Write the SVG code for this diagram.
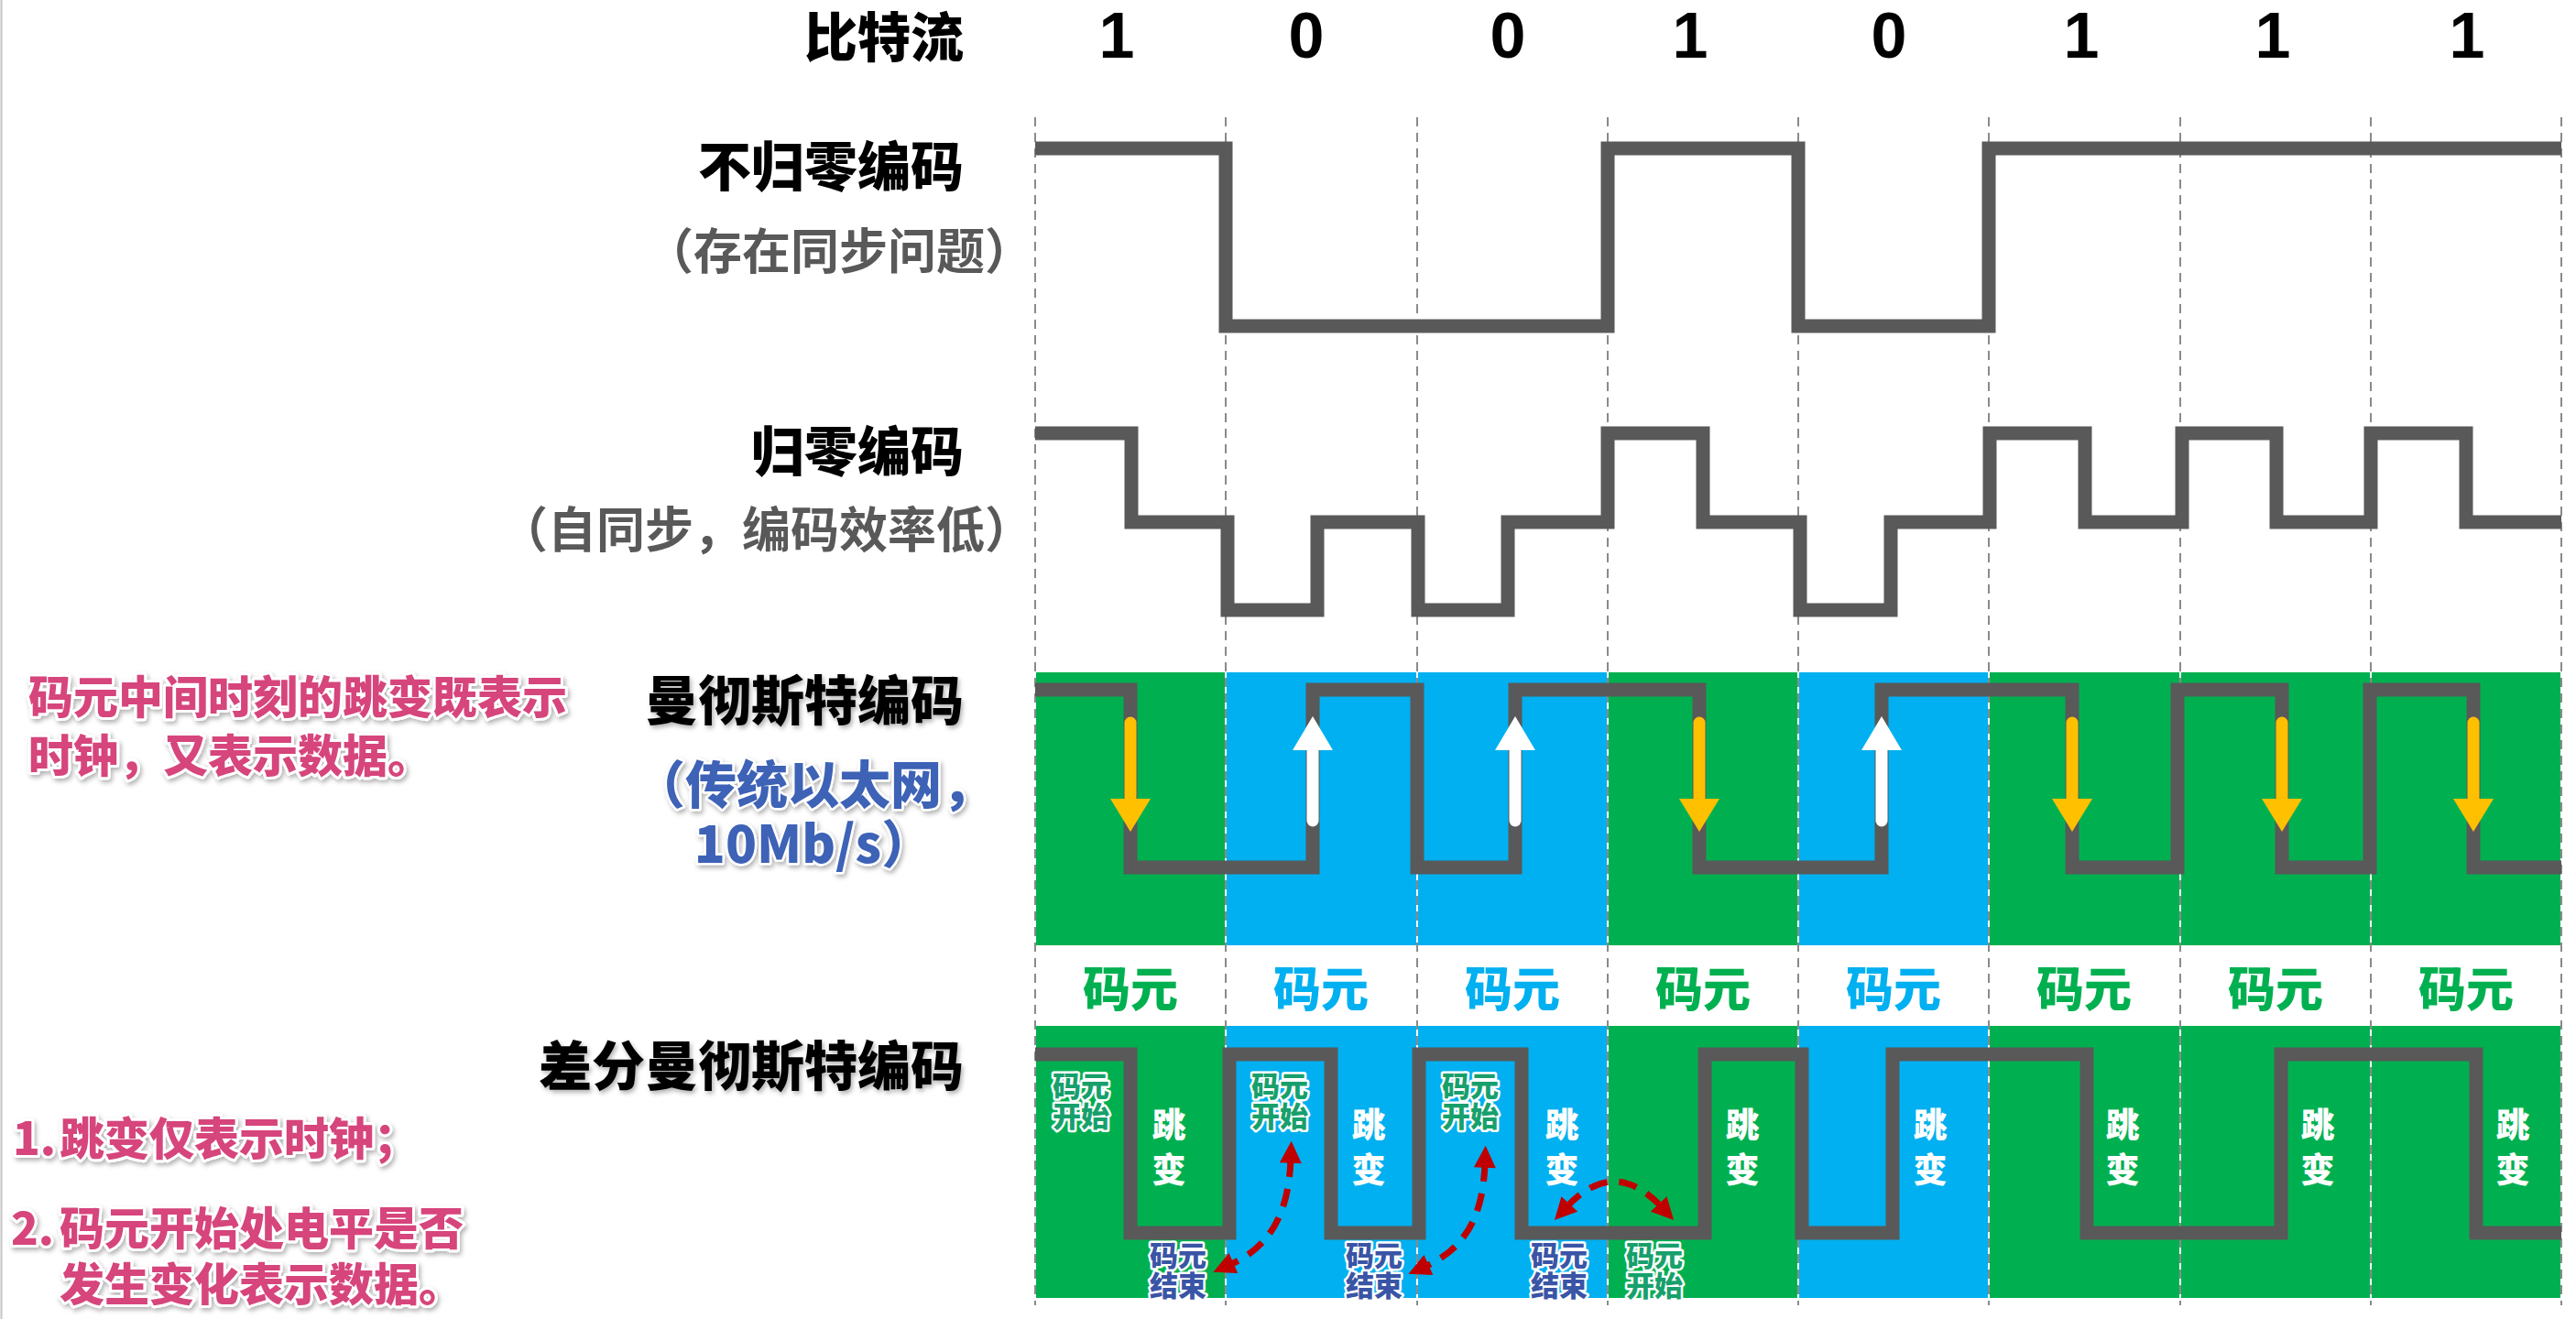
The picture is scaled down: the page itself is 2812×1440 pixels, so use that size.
<svg xmlns="http://www.w3.org/2000/svg" width="2812" height="1440" viewBox="0 0 2812 1440">
  <style>
    .lbl { font-family: "Noto Sans CJK SC", "Noto Sans", sans-serif; font-weight: 700; dominant-baseline: central; }
    .heavy { font-weight: 900; }
    .title { font-size: 58px; fill: #000; text-anchor: end; }
    .sub { font-size: 53px; fill: #595959; text-anchor: end; }
    .bit { font-family: "Liberation Sans", Arial, sans-serif; font-weight: 700; font-size: 70px; fill: #000; text-anchor: middle; }
    .grid { stroke: #8a8a8a; stroke-width: 2; stroke-dasharray: 10 7; }
    .wave { fill: none; stroke: #595959; stroke-width: 15; stroke-linejoin: miter; }
    .g { fill: #00B050; }
    .b { fill: #00B0F0; }
    .cellg { font-size: 52px; fill: #00B050; text-anchor: middle; }
    .cellb { font-size: 52px; fill: #00B0F0; text-anchor: middle; }
    .note { font-size: 49px; fill: #D6457B; stroke: #fff; stroke-width: 6; paint-order: stroke; stroke-linejoin: round; }
    .eth { font-size: 56px; fill: #3D62B6; text-anchor: middle; stroke: #fff; stroke-width: 5; paint-order: stroke; stroke-linejoin: round; }
    .start { font-size: 31px; fill: #17A06C; text-anchor: middle; stroke: #fff; stroke-width: 5; paint-order: stroke; stroke-linejoin: round; }
    .end { font-size: 31px; fill: #3A55A6; text-anchor: middle; stroke: #fff; stroke-width: 5; paint-order: stroke; stroke-linejoin: round; }
    .jump { font-size: 37px; fill: #fff; text-anchor: middle; }
    .red { fill: none; stroke: #C00000; stroke-width: 7; stroke-dasharray: 20 13; marker-start: url(#redHead); marker-end: url(#redHead); }
  </style>
  <defs>
    <filter id="shadow" x="-10%" y="-30%" width="120%" height="160%">
      <feDropShadow dx="2" dy="3" stdDeviation="2.5" flood-color="#000" flood-opacity="0.3"/>
    </filter>
    <marker id="redHead" viewBox="0 0 10 10" refX="2" refY="5" markerWidth="26" markerHeight="24" markerUnits="userSpaceOnUse" orient="auto-start-reverse">
      <path d="M0,0 L10,5 L0,10 z" fill="#C00000"/>
    </marker>
    <!-- falling-edge arrow (yellow) and rising-edge arrow (white), centred on x=0 -->
    <g id="arrowDown">
      <line x1="0" y1="789" x2="0" y2="876" stroke="#FFC000" stroke-width="13" stroke-linecap="round"/>
      <polygon points="-22,872 22,872 0,908" fill="#FFC000"/>
    </g>
    <g id="arrowUp">
      <line x1="0" y1="816" x2="0" y2="896" stroke="#fff" stroke-width="13" stroke-linecap="round"/>
      <polygon points="-22,819 22,819 0,782" fill="#fff"/>
    </g>
  </defs>

  <rect x="0" y="0" width="2812" height="1440" fill="#fff"/>
  <line x1="1.5" y1="0" x2="1.5" y2="1440" stroke="#c4c4c4" stroke-width="2"/>

  <!-- coloured bit cells: Manchester band and differential Manchester band -->
  <g id="cells">
    <rect class="g" x="1131" y="734" width="206" height="298"/>
    <rect class="b" x="1339" y="734" width="207" height="298"/>
    <rect class="b" x="1548" y="734" width="206" height="298"/>
    <rect class="g" x="1756" y="734" width="206" height="298"/>
    <rect class="b" x="1964" y="734" width="206" height="298"/>
    <rect class="g" x="2172" y="734" width="207" height="298"/>
    <rect class="g" x="2381" y="734" width="206" height="298"/>
    <rect class="g" x="2589" y="734" width="206" height="298"/>

    <rect class="g" x="1131" y="1120" width="206" height="297"/>
    <rect class="b" x="1339" y="1120" width="207" height="297"/>
    <rect class="b" x="1548" y="1120" width="206" height="297"/>
    <rect class="g" x="1756" y="1120" width="206" height="297"/>
    <rect class="b" x="1964" y="1120" width="206" height="297"/>
    <rect class="g" x="2172" y="1120" width="207" height="297"/>
    <rect class="g" x="2381" y="1120" width="206" height="297"/>
    <rect class="g" x="2589" y="1120" width="206" height="297"/>
  </g>

  <!-- bit-period boundaries -->
  <g id="grid" class="grid">
    <line x1="1130" y1="128" x2="1130" y2="1425"/>
    <line x1="1338" y1="128" x2="1338" y2="1425"/>
    <line x1="1547" y1="128" x2="1547" y2="1425"/>
    <line x1="1755" y1="128" x2="1755" y2="1425"/>
    <line x1="1963" y1="128" x2="1963" y2="1425"/>
    <line x1="2171" y1="128" x2="2171" y2="1425"/>
    <line x1="2380" y1="128" x2="2380" y2="1425"/>
    <line x1="2588" y1="128" x2="2588" y2="1425"/>
    <line x1="2796" y1="128" x2="2796" y2="1425"/>
  </g>

  <!-- header row: bit stream 1 0 0 1 0 1 1 1 -->
  <g id="bitstream">
    <text class="lbl heavy title" x="1052" y="37">比特流</text>
    <text class="bit" x="1219" y="63">1</text>
    <text class="bit" x="1426" y="63">0</text>
    <text class="bit" x="1646" y="63">0</text>
    <text class="bit" x="1845" y="63">1</text>
    <text class="bit" x="2062" y="63">0</text>
    <text class="bit" x="2272" y="63">1</text>
    <text class="bit" x="2481" y="63">1</text>
    <text class="bit" x="2693" y="63">1</text>
  </g>

  <!-- NRZ -->
  <g id="nrz">
    <text class="lbl heavy title" x="1052" y="178">不归零编码</text>
    <text class="lbl sub" x="1128" y="271">（存在同步问题）</text>
    <path class="wave" d="M1130,162 H1338 V356 H1755 V162 H1963 V356 H2171 V162 H2796"/>
  </g>

  <!-- RZ -->
  <g id="rz">
    <text class="lbl heavy title" x="1052" y="489">归零编码</text>
    <text class="lbl sub" x="1128" y="575">（自同步，编码效率低）</text>
    <path class="wave" d="M1130,473 H1235 V570 H1340 V666 H1438 V570 H1548 V666 H1646 V570 H1755 V473 H1859 V570 H1965 V666 H2064 V570 H2172 V473 H2276 V570 H2382 V473 H2485 V570 H2588 V473 H2692 V570 H2796"/>
  </g>

  <!-- Manchester -->
  <g id="manchester">
    <text class="lbl heavy title" x="1052" y="761" filter="url(#shadow)">曼彻斯特编码</text>
    <g filter="url(#shadow)">
      <text class="lbl heavy eth" x="888" y="852">（传统以太网，</text>
      <text class="lbl heavy eth" x="888" y="917">10Mb/s）</text>
    </g>
    <path class="wave" d="M1130,753 H1234 V947 H1433 V753 H1547 V947 H1654 V753 H1855 V947 H2054 V753 H2262 V947 H2377 V753 H2491 V947 H2587 V753 H2700 V947 H2796"/>
    <use href="#arrowDown" x="1234"/>
    <use href="#arrowUp" x="1433"/>
    <use href="#arrowUp" x="1654"/>
    <use href="#arrowDown" x="1855"/>
    <use href="#arrowUp" x="2054"/>
    <use href="#arrowDown" x="2262"/>
    <use href="#arrowDown" x="2491"/>
    <use href="#arrowDown" x="2700"/>
  </g>

  <!-- bit cell captions -->
  <g id="cell-captions" class="lbl heavy">
    <text class="cellg" x="1234" y="1076">码元</text>
    <text class="cellb" x="1442" y="1076">码元</text>
    <text class="cellb" x="1651" y="1076">码元</text>
    <text class="cellg" x="1859" y="1076">码元</text>
    <text class="cellb" x="2067" y="1076">码元</text>
    <text class="cellg" x="2275" y="1076">码元</text>
    <text class="cellg" x="2484" y="1076">码元</text>
    <text class="cellg" x="2692" y="1076">码元</text>
  </g>

  <!-- Differential Manchester -->
  <g id="diff-manchester">
    <text class="lbl heavy title" x="1052" y="1160" filter="url(#shadow)">差分曼彻斯特编码</text>
    <path class="wave" d="M1130,1151 H1234 V1346 H1342 V1151 H1453 V1346 H1549 V1151 H1661 V1346 H1861 V1151 H1967 V1346 H2066 V1151 H2278 V1346 H2490 V1151 H2703 V1346 H2796"/>
  </g>

  <g id="dm-labels" class="lbl heavy">
    <text class="start" x="1180" y="1183">码元<tspan x="1180" y="1216">开始</tspan></text>
    <text class="start" x="1397" y="1183">码元<tspan x="1397" y="1216">开始</tspan></text>
    <text class="start" x="1605" y="1183">码元<tspan x="1605" y="1216">开始</tspan></text>
    <text class="start" x="1806" y="1368">码元<tspan x="1806" y="1401">开始</tspan></text>
    <text class="end" x="1286" y="1368">码元<tspan x="1286" y="1401">结束</tspan></text>
    <text class="end" x="1500" y="1368">码元<tspan x="1500" y="1401">结束</tspan></text>
    <text class="end" x="1702" y="1368">码元<tspan x="1702" y="1401">结束</tspan></text>

    <text class="jump" x="1276" y="1226">跳<tspan x="1276" y="1275">变</tspan></text>
    <text class="jump" x="1494" y="1226">跳<tspan x="1494" y="1275">变</tspan></text>
    <text class="jump" x="1705" y="1226">跳<tspan x="1705" y="1275">变</tspan></text>
    <text class="jump" x="1902" y="1226">跳<tspan x="1902" y="1275">变</tspan></text>
    <text class="jump" x="2107" y="1226">跳<tspan x="2107" y="1275">变</tspan></text>
    <text class="jump" x="2317" y="1226">跳<tspan x="2317" y="1275">变</tspan></text>
    <text class="jump" x="2530" y="1226">跳<tspan x="2530" y="1275">变</tspan></text>
    <text class="jump" x="2743" y="1226">跳<tspan x="2743" y="1275">变</tspan></text>
  </g>

  <!-- level comparisons between end of one cell and start of the next -->
  <g id="connectors">
    <path class="red" d="M1409,1265 C1407,1320 1390,1360 1342,1381"/>
    <path class="red" d="M1621,1270 C1619,1325 1602,1362 1555,1383"/>
    <path class="red" d="M1710,1318 Q1762,1262 1814,1318"/>
  </g>

  <!-- side notes -->
  <g id="notes" class="lbl heavy" filter="url(#shadow)">
    <text class="note" x="31" y="757">码元中间时刻的跳变既表示</text>
    <text class="note" x="31" y="821">时钟，又表示数据。</text>
    <text class="note" y="1239"><tspan x="14">1.</tspan><tspan x="65">跳变仅表示时钟；</tspan></text>
    <text class="note" y="1337"><tspan x="12">2.</tspan><tspan x="65">码元开始处电平是否</tspan></text>
    <text class="note" x="65" y="1398">发生变化表示数据。</text>
  </g>
</svg>
